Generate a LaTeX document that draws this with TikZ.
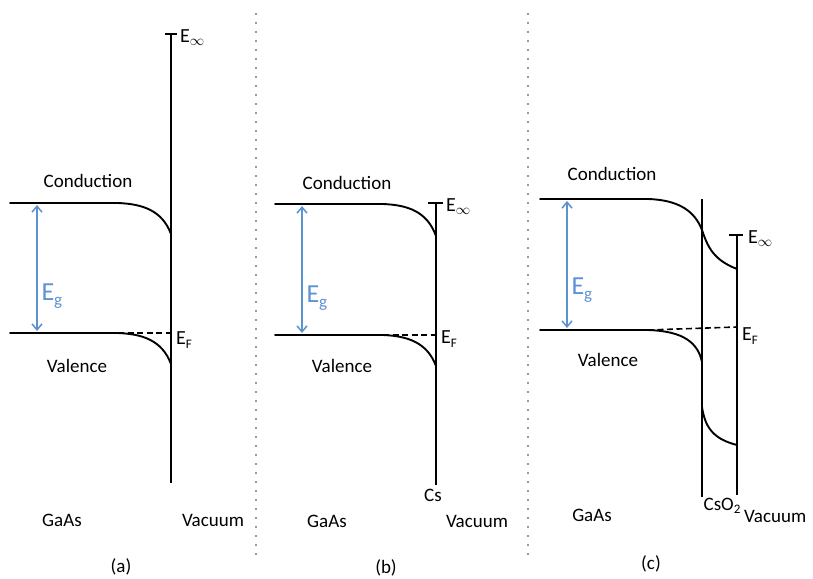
\documentclass[tikz,border=0pt]{standalone}
\usepackage{fontspec}
\setmainfont{Carlito}
\usetikzlibrary{arrows.meta}

\newcommand{\lowsub}[2]{\raisebox{-0.35ex}{\fontsize{#1}{#1}\selectfont #2}}

\begin{document}
\begin{tikzpicture}[
            x=1pt, y=-1pt,
            font=\fontsize{19}{22}\selectfont,
            band/.style={line width=1.9pt, line cap=round},
            wall/.style={line width=1.9pt},
            fermi/.style={line width=1.6pt, dash pattern=on 6pt off 3.5pt},
            gap/.style={{Straight Barb[length=6pt,width=10pt]}-{Straight Barb[length=6pt,width=10pt]}, line width=1.5pt, draw=gapblue},
            gaplabel/.style={anchor=west, text=gapblue, font=\fontsize{26}{28}\selectfont},
            level/.style={anchor=west, font=\fontsize{20}{22}\selectfont, inner sep=1pt},
            divider/.style={draw=black!40, line width=2pt, dash pattern=on 2pt off 7pt}
        ]
            \definecolor{gapblue}{RGB}{91,146,210}
            \useasboundingbox (0,0) rectangle (813,578);

            % separators
            \draw[divider] (256,13) -- (256,560);
            \draw[divider] (528,13) -- (528,560);

            % (a) GaAs / vacuum
            \coordinate (cbA) at (10,203);
            \coordinate (vbA) at (10,333);
            \coordinate (bendA) at (118,203);
            \coordinate (vbendA) at (118,333);
            \coordinate (vacTopA) at (171,34);
            \coordinate (vacBotA) at (171,483);
            \draw[wall] (vacTopA) -- (vacBotA);
            \draw[wall] (165,34) -- (177,34);
            \draw[band] (cbA) -- (bendA) .. controls (142,204) and (162,210) .. (171,234);
            \draw[band] (vbA) -- (vbendA) .. controls (142,334) and (162,340) .. (171,364);
            \draw[fermi] (vbendA) -- (171,333);
            \draw[gap] (37,205) -- (37,331);
            \node[gaplabel] (egA) at (38,296) {E\lowsub{17}{g}};
            \node[level] (einfA) at (179,38) {E$_\infty$};
            \node[level] (efA) at (175,340) {E\lowsub{13}{F}};
            \node (condA) at (88,181) {Conduction};
            \node (valA) at (77,366) {Valence};
            \node (gaasA) at (62,520) {GaAs};
            \node (vacA) at (213,520) {Vacuum};
            \node (capA) at (121,567) {(a)};

            % (b) Cs layer
            \coordinate (cbB) at (275,204);
            \coordinate (vbB) at (275,335);
            \coordinate (bendB) at (383,204);
            \coordinate (vbendB) at (383,335);
            \coordinate (vacTopB) at (436,203);
            \coordinate (vacBotB) at (436,485);
            \draw[wall] (vacTopB) -- (vacBotB);
            \draw[wall] (428,203) -- (443,203);
            \draw[band] (cbB) -- (bendB) .. controls (407,205) and (427,211) .. (436,236);
            \draw[band] (vbB) -- (vbendB) .. controls (407,336) and (427,342) .. (436,366);
            \draw[fermi] (vbendB) -- (436,335);
            \draw[gap] (302,206) -- (302,333);
            \node[gaplabel] (egB) at (303,298) {E\lowsub{17}{g}};
            \node[level] (einfB) at (445,207) {E$_\infty$};
            \node[level] (efB) at (440,339) {E\lowsub{13}{F}};
            \node (condB) at (347,183) {Conduction};
            \node (valB) at (342,366) {Valence};
            \node (csB) at (433,495) {Cs};
            \node (gaasB) at (327,521) {GaAs};
            \node (vacB) at (477,521) {Vacuum};
            \node (capB) at (386,568) {(b)};

            % (c) CsO2 layer
            \coordinate (cbC) at (540,199);
            \coordinate (vbC) at (540,330);
            \coordinate (bendC) at (648,199);
            \coordinate (vbendC) at (648,330);
            \coordinate (oxTop) at (702,199);
            \coordinate (oxBot) at (702,497);
            \coordinate (vacTopC) at (737,235);
            \coordinate (vacBotC) at (737,495);
            \draw[wall] (oxTop) -- (oxBot);
            \draw[wall] (vacTopC) -- (vacBotC);
            \draw[wall] (729,235) -- (743,235);
            \draw[band] (cbC) -- (bendC) .. controls (680,200) and (695,212) .. (702,230)
                .. controls (708,248) and (714,260) .. (737,269);
            \draw[band] (vbC) -- (vbendC) .. controls (676,331) and (697,338) .. (702,362);
            \draw[band] (702,407) .. controls (705,427) and (713,439) .. (737,445);
            \draw[fermi] (vbendC) -- (737,327);
            \draw[gap] (567,201) -- (567,328);
            \node[gaplabel] (egC) at (568,290) {E\lowsub{17}{g}};
            \node[level] (einfC) at (747,239) {E$_\infty$};
            \node[level] (efC) at (741,336) {E\lowsub{13}{F}};
            \node (condC) at (612,174) {Conduction};
            \node (valC) at (608,360) {Valence};
            \node (csoC) at (722,506) {CsO\lowsub{13}{2}};
            \node (gaasC) at (592,515) {GaAs};
            \node[anchor=west, inner sep=0pt] (vacC) at (744,516) {Vacuum};
            \node (capC) at (651,564) {(c)};
        \end{tikzpicture}
\end{document}
